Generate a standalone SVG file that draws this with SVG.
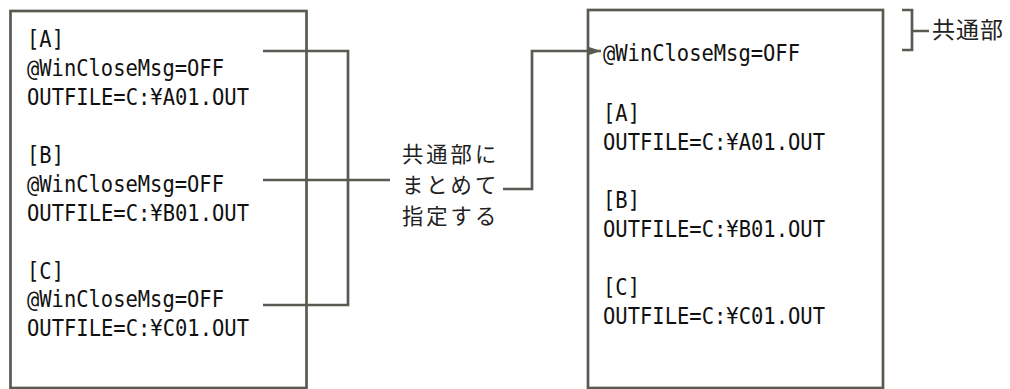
<svg xmlns="http://www.w3.org/2000/svg" width="1010" height="389" viewBox="0 0 1010 389">
<style>
.box{fill:none;stroke:#5a5a52;stroke-width:2.7}
.ln{fill:none;stroke:#5a5a52;stroke-width:2.7;stroke-linejoin:miter}
.code{font-family:"DejaVu Sans Mono","Liberation Mono",monospace;font-size:22.5px;fill:#111}
.jp{font-family:"Noto Sans CJK JP","Noto Sans",sans-serif;fill:#222}
.lbl{font-size:21.3px;letter-spacing:3px}
.cm{font-size:23px;letter-spacing:1px}
</style>
<defs>
<marker id="arr" markerWidth="12" markerHeight="10" refX="12" refY="5" orient="auto" markerUnits="userSpaceOnUse">
<path d="M0,1 L12,5 L0,9 Z" fill="#5a5a52"/>
</marker>
</defs>
<rect width="1010" height="389" fill="#ffffff"/>
<g id="left-box">
<rect class="box" x="10.5" y="11" width="296" height="377"/>
<text class="code" x="27" y="47" textLength="37" lengthAdjust="spacingAndGlyphs">[A]</text>
<text class="code" x="27" y="76" textLength="197" lengthAdjust="spacingAndGlyphs">@WinCloseMsg=OFF</text>
<text class="code" x="27" y="105" textLength="222" lengthAdjust="spacingAndGlyphs">OUTFILE=C:¥A01.OUT</text>
<text class="code" x="27" y="163" textLength="37" lengthAdjust="spacingAndGlyphs">[B]</text>
<text class="code" x="27" y="192" textLength="197" lengthAdjust="spacingAndGlyphs">@WinCloseMsg=OFF</text>
<text class="code" x="27" y="221" textLength="222" lengthAdjust="spacingAndGlyphs">OUTFILE=C:¥B01.OUT</text>
<text class="code" x="27" y="279" textLength="37" lengthAdjust="spacingAndGlyphs">[C]</text>
<text class="code" x="27" y="307" textLength="197" lengthAdjust="spacingAndGlyphs">@WinCloseMsg=OFF</text>
<text class="code" x="27" y="336" textLength="222" lengthAdjust="spacingAndGlyphs">OUTFILE=C:¥C01.OUT</text>
</g>
<g id="label">
<text class="jp lbl" x="402" y="162">共通部に</text>
<text class="jp lbl" x="402" y="193">まとめて</text>
<text class="jp lbl" x="402" y="224">指定する</text>
</g>
<g id="right-box">
<rect class="box" x="588" y="10" width="295" height="378"/>
<text class="code" x="603" y="61" textLength="197" lengthAdjust="spacingAndGlyphs">@WinCloseMsg=OFF</text>
<text class="code" x="603" y="121" textLength="37" lengthAdjust="spacingAndGlyphs">[A]</text>
<text class="code" x="603" y="150" textLength="222" lengthAdjust="spacingAndGlyphs">OUTFILE=C:¥A01.OUT</text>
<text class="code" x="603" y="208" textLength="37" lengthAdjust="spacingAndGlyphs">[B]</text>
<text class="code" x="603" y="237" textLength="222" lengthAdjust="spacingAndGlyphs">OUTFILE=C:¥B01.OUT</text>
<text class="code" x="603" y="295" textLength="37" lengthAdjust="spacingAndGlyphs">[C]</text>
<text class="code" x="603" y="324" textLength="222" lengthAdjust="spacingAndGlyphs">OUTFILE=C:¥C01.OUT</text>
</g>
<g id="common-label">
<text class="jp cm" x="932" y="38">共通部</text>
</g>
<g id="connectors">
<polyline class="ln" points="263,51 348,51 348,305 263,305"/>
<line class="ln" x1="263" y1="180" x2="390" y2="180"/>
<polyline class="ln" points="503,189 532,189 532,51 601,51" marker-end="url(#arr)"/>
<path class="ln" d="M902,10 H912 V50 H902 M912,31 H929"/>
</g>
</svg>
